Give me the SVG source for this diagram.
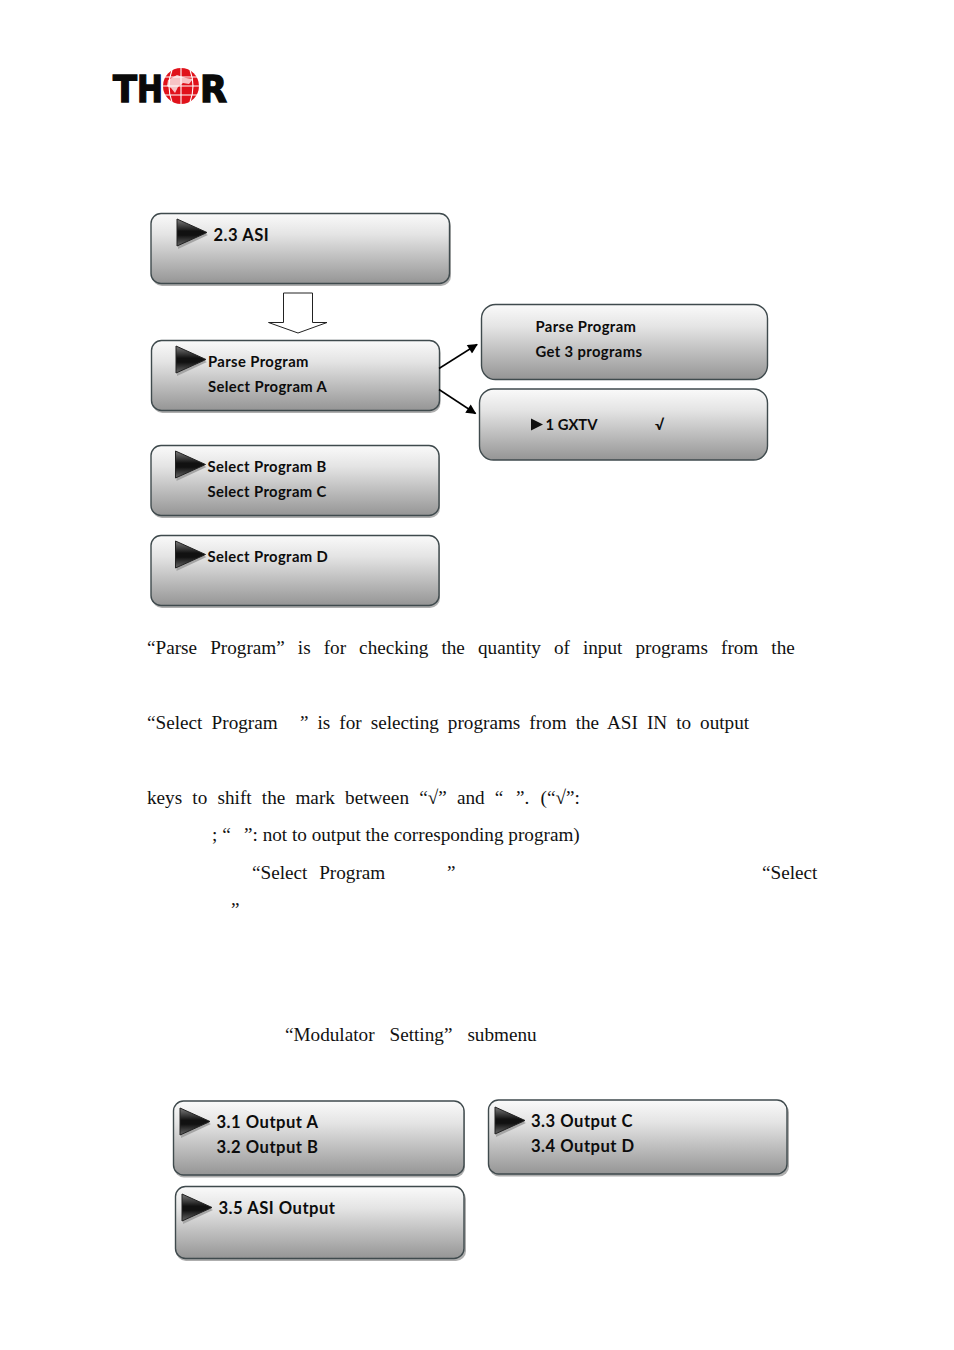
<svg xmlns="http://www.w3.org/2000/svg" width="954" height="1350" viewBox="0 0 954 1350">
<style>
.box{fill:url(#boxfill);stroke:#3f4a4d;stroke-width:1.4}
.shadow{fill:#a0a0a0;opacity:.85}
.lab{font-family:"Lato","Liberation Sans",sans-serif;font-weight:700;font-size:14.8px;letter-spacing:.38px;fill:#0c0c0c}
.big{font-size:16.6px;letter-spacing:.5px}
.body{font-family:"Liberation Serif","Times New Roman",serif;font-size:19.2px;fill:#111}
.logo{font-family:"DejaVu Sans",sans-serif;font-weight:700;font-size:37px;fill:#0a0a0a;stroke:#0a0a0a;stroke-width:1.4}
.conn{fill:none;stroke:#000;stroke-width:1.5}
.globe{fill:none;stroke:#fff;stroke-width:1.1}
</style>
<defs>
<linearGradient id="boxfill" x1="0" y1="0" x2="0" y2="1">
<stop offset="0" stop-color="#fafafa"/><stop offset=".3" stop-color="#e4e4e4"/><stop offset="1" stop-color="#959595"/>
</linearGradient>
<linearGradient id="tri" x1="0" y1="0" x2="0" y2="1">
<stop offset="0" stop-color="#7c7c7c"/><stop offset=".45" stop-color="#111"/><stop offset=".6" stop-color="#111"/><stop offset="1" stop-color="#666"/>
</linearGradient>
<marker id="ah" viewBox="0 0 10 10" refX="9" refY="5" markerWidth="11" markerHeight="10" markerUnits="userSpaceOnUse" orient="auto"><path d="M0 0L10 5L0 10Z" fill="#000"/></marker>
<g id="play">
<path d="M1 2V30L31 16Z" fill="#a5a5a5"/>
<path d="M0 0V27L30 13.500Z" fill="url(#tri)" stroke="#222" stroke-width="1"/>
</g>
</defs>

<g id="logo">
<text class="logo" x="113" y="102" textLength="24" lengthAdjust="spacingAndGlyphs">T</text>
<text class="logo" x="137" y="102" textLength="26" lengthAdjust="spacingAndGlyphs">H</text>
<circle cx="181" cy="86" r="18" fill="#e0121b"/>
<path class="globe" d="M163 86H199M165 77H197M165 95H197M181 68V104M172 70Q166 86 172 102M190 70Q196 86 190 102"/>
<path d="M168 80l9-5 9 3 7 1-4 5-6-1-5 4-3 6-4-5-4-2z" fill="#fff" opacity=".75"/>
<text class="logo" x="200" y="102" textLength="27" lengthAdjust="spacingAndGlyphs">R</text>
</g>

<g id="node-asi">
<rect class="shadow" x="152" y="216" width="299" height="70" rx="10"/>
<rect class="box" x="151" y="213.500" width="298.500" height="70" rx="10"/>
<use href="#play" x="177" y="219"/>
<text class="lab big" x="213.500" y="241">2.3 ASI</text>
</g>

<g id="node-down-arrow">
<path d="M283.500 293H312.500V322.500H327L298 333L268.500 322.500H283.500Z" fill="#fff" stroke="#222" stroke-width="1"/>
</g>

<g id="node-parse">
<rect class="shadow" x="152.500" y="343" width="288" height="70" rx="10"/>
<rect class="box" x="151.500" y="340.500" width="288" height="70" rx="10"/>
<use href="#play" x="176" y="346"/>
<text class="lab" x="208" y="367">Parse Program</text>
<text class="lab" x="208" y="392">Select Program A</text>
</g>

<g id="node-get">
<rect class="box" x="481.500" y="304.500" width="286" height="75" rx="14"/>
<text class="lab" x="535.500" y="332">Parse Program</text>
<text class="lab" x="535.500" y="357">Get 3 programs</text>
</g>

<g id="node-gxtv">
<rect class="box" x="479.500" y="389" width="288" height="71" rx="14"/>
<path d="M531 418.500V430.500L543 424.500Z" fill="#111"/>
<text class="lab" x="545.500" y="430" style="letter-spacing:0">1 GXTV</text>
<text class="lab" x="655" y="430">√</text>
</g>

<g id="node-bc">
<rect class="shadow" x="152" y="448" width="288" height="70" rx="10"/>
<rect class="box" x="151" y="445.500" width="288" height="70" rx="10"/>
<use href="#play" x="175.500" y="451"/>
<text class="lab" x="207.500" y="472">Select Program B</text>
<text class="lab" x="207.500" y="497">Select Program C</text>
</g>

<g id="node-d">
<rect class="shadow" x="152" y="538" width="288" height="70" rx="10"/>
<rect class="box" x="151" y="535.500" width="288" height="70" rx="10"/>
<use href="#play" x="175.500" y="541"/>
<text class="lab" x="207.500" y="562">Select Program D</text>
</g>

<g id="connectors">
<line class="conn" x1="439" y1="368.500" x2="477" y2="344.500" marker-end="url(#ah)"/>
<line class="conn" x1="439" y1="389.500" x2="475.500" y2="413.500" marker-end="url(#ah)"/>
</g>

<g id="paragraph">
<text class="body" x="147" y="654" word-spacing="8.270">“Parse Program” is for checking the quantity of input programs from the</text>
<text class="body" x="147" y="729" word-spacing="4.400">“Select Program</text>
<text class="body" x="300" y="729" word-spacing="4.200">” is for selecting programs from the ASI IN to output</text>
<text class="body" x="147" y="804" word-spacing="5.400">keys to shift the mark between “√” and “</text>
<text class="body" x="516" y="804" word-spacing="6.500">”. (“√”:</text>
<text class="body" x="212" y="841">; “</text>
<text class="body" x="244" y="841">”: not to output the corresponding program)</text>
<text class="body" x="252" y="879" word-spacing="7">“Select Program</text>
<text class="body" x="447" y="879">”</text>
<text class="body" x="762" y="879">“Select</text>
<text class="body" x="231" y="916">”</text>
<text class="body" x="285" y="1041" word-spacing="10.200">“Modulator Setting” submenu</text>
</g>

<g id="node-out-ab">
<rect class="shadow" x="174" y="1103.500" width="291" height="74" rx="10"/>
<rect class="box" x="173.500" y="1101" width="290.500" height="74" rx="10"/>
<use href="#play" x="180" y="1108"/>
<text class="lab big" x="216.500" y="1128">3.1 Output A</text>
<text class="lab big" x="216.500" y="1153">3.2 Output B</text>
</g>

<g id="node-out-cd">
<rect class="shadow" x="489" y="1102.500" width="300" height="74" rx="10"/>
<rect class="box" x="488.500" y="1100" width="298.500" height="74" rx="10"/>
<use href="#play" x="495" y="1107"/>
<text class="lab big" x="531" y="1127">3.3 Output C</text>
<text class="lab big" x="531" y="1152">3.4 Output D</text>
</g>

<g id="node-out-asi">
<rect class="shadow" x="176" y="1189" width="290" height="72" rx="10"/>
<rect class="box" x="175.500" y="1186.500" width="288.500" height="72" rx="10"/>
<use href="#play" x="182" y="1194"/>
<text class="lab big" x="218.500" y="1214">3.5 ASI Output</text>
</g>
</svg>
